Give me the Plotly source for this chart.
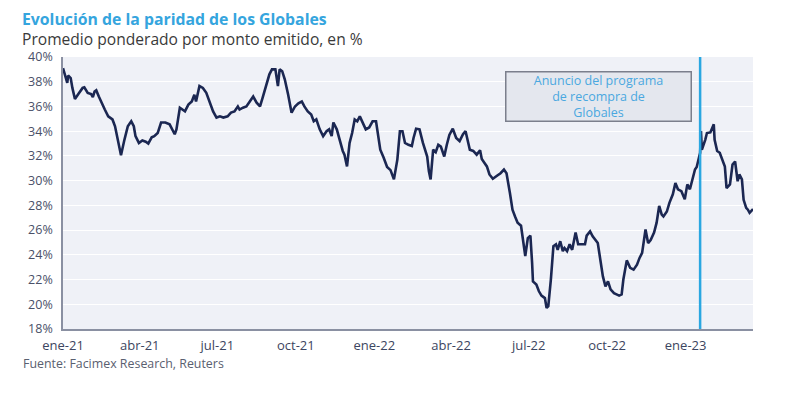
import plotly.graph_objects as go

# ---- data ----
dates = [
    "2021-01-01","2021-01-03","2021-01-06","2021-01-07","2021-01-10","2021-01-12","2021-01-15","2021-01-19","2021-01-24","2021-01-26","2021-01-30",
    "2021-02-03","2021-02-05","2021-02-07","2021-02-09","2021-02-12","2021-02-16","2021-02-19","2021-02-23","2021-02-28",
    "2021-03-03","2021-03-06","2021-03-10","2021-03-14","2021-03-18","2021-03-22","2021-03-25","2021-03-27","2021-03-31",
    "2021-04-04","2021-04-08","2021-04-11","2021-04-15","2021-04-18","2021-04-22","2021-04-26",
    "2021-05-01","2021-05-06","2021-05-12","2021-05-14","2021-05-18","2021-05-21","2021-05-24","2021-05-28",
    "2021-06-01","2021-06-04","2021-06-06","2021-06-10","2021-06-14","2021-06-18","2021-06-22","2021-06-26","2021-06-30",
    "2021-07-04","2021-07-08","2021-07-13","2021-07-17","2021-07-21","2021-07-25","2021-07-27","2021-07-31",
    "2021-08-04","2021-08-08","2021-08-12","2021-08-16","2021-08-20","2021-08-23","2021-08-27","2021-08-31",
    "2021-09-03","2021-09-07","2021-09-10","2021-09-12","2021-09-15","2021-09-18","2021-09-22","2021-09-26","2021-09-30",
    "2021-10-04","2021-10-08","2021-10-11","2021-10-15","2021-10-19","2021-10-22","2021-10-25","2021-10-29",
    "2021-11-02","2021-11-06","2021-11-09","2021-11-12","2021-11-14","2021-11-18","2021-11-21","2021-11-25","2021-11-27","2021-11-30",
    "2021-12-03","2021-12-06","2021-12-09","2021-12-12","2021-12-15","2021-12-18","2021-12-22","2021-12-26","2021-12-30",
    "2022-01-03","2022-01-05","2022-01-08","2022-01-12","2022-01-16","2022-01-20","2022-01-24","2022-01-28","2022-01-31",
    "2022-02-03","2022-02-06","2022-02-10","2022-02-14","2022-02-16","2022-02-19","2022-02-23","2022-02-27",
    "2022-03-04","2022-03-06","2022-03-08","2022-03-11","2022-03-14","2022-03-17","2022-03-20","2022-03-24","2022-03-27","2022-03-30",
    "2022-04-03","2022-04-07","2022-04-11","2022-04-15","2022-04-18","2022-04-20","2022-04-23","2022-04-27",
    "2022-05-01","2022-05-05","2022-05-07","2022-05-10","2022-05-13","2022-05-16","2022-05-20","2022-05-24","2022-05-29",
    "2022-06-02","2022-06-05","2022-06-09","2022-06-12","2022-06-15","2022-06-18","2022-06-22","2022-06-24","2022-06-27","2022-06-30",
    "2022-07-03","2022-07-05","2022-07-06","2022-07-10","2022-07-13","2022-07-16","2022-07-20","2022-07-22","2022-07-24","2022-07-27","2022-07-30",
    "2022-08-02","2022-08-04","2022-08-07","2022-08-10","2022-08-12","2022-08-15","2022-08-18","2022-08-21","2022-08-25","2022-08-28",
    "2022-09-01","2022-09-05","2022-09-07","2022-09-11","2022-09-14","2022-09-18","2022-09-20","2022-09-23","2022-09-26","2022-09-29",
    "2022-10-02","2022-10-05","2022-10-09","2022-10-12","2022-10-15","2022-10-18","2022-10-20","2022-10-24","2022-10-28",
    "2022-11-01","2022-11-05","2022-11-08","2022-11-11","2022-11-15","2022-11-18","2022-11-21","2022-11-25","2022-11-28",
    "2022-12-01","2022-12-04","2022-12-06","2022-12-10","2022-12-13","2022-12-17","2022-12-20","2022-12-23","2022-12-27","2022-12-31",
    "2023-01-03","2023-01-06","2023-01-09","2023-01-12","2023-01-14","2023-01-18","2023-01-19","2023-01-20","2023-01-24","2023-01-26","2023-01-30",
    "2023-02-03","2023-02-04","2023-02-07","2023-02-10","2023-02-13","2023-02-16","2023-02-18","2023-02-22","2023-02-25","2023-02-28",
    "2023-03-03","2023-03-05","2023-03-08","2023-03-10","2023-03-13","2023-03-15","2023-03-17","2023-03-21",
]

paridad = [
    39.1, 38.6, 37.9, 38.5, 38.3, 37.5, 36.6, 37.0, 37.5, 37.55, 37.1,
    37.0, 36.75, 37.2, 37.3, 36.8, 36.15, 35.75, 35.2, 34.95,
    34.4, 33.3, 32.05, 33.3, 34.4, 34.8, 34.4, 33.6, 33.05,
    33.25, 33.15, 33.0, 33.5, 33.6, 33.85, 34.7,
    34.7, 34.55, 33.75, 34.15, 35.9, 35.75, 35.6, 36.15,
    36.4, 36.95, 36.4, 37.65, 37.5, 37.1, 36.4, 35.6, 35.1,
    35.2, 35.1, 35.2, 35.5, 35.6, 36.0, 35.75, 35.9,
    36.0, 36.4, 36.8, 36.3, 36.0, 36.7, 37.65, 38.6,
    39.0, 39.0, 37.65, 39.0, 38.85, 38.2, 36.95, 35.5, 36.0,
    36.25, 36.4, 36.0, 35.6, 35.35, 34.8, 34.95, 34.15,
    33.6, 34.0, 34.15, 33.6, 34.7, 34.15, 33.3, 32.4, 32.1, 31.15,
    33.05, 33.85, 34.95, 34.8, 35.2, 34.7, 34.15, 34.3, 34.8,
    34.8, 33.85, 32.5, 31.85, 31.1, 30.85, 30.1, 31.7, 34.0,
    34.0, 33.05, 32.9, 32.8, 33.45, 34.2, 34.15, 33.05,
    31.95, 30.75, 30.1, 32.5, 32.3, 32.9, 32.75, 31.95, 32.9, 33.7,
    34.2, 33.45, 33.2, 33.75, 34.0, 33.3, 32.5, 32.4,
    32.1, 32.45, 31.75, 31.45, 31.15, 30.5, 30.15, 30.35, 30.6,
    30.9, 30.6, 29.0, 27.65, 27.1, 26.6, 26.35, 25.25, 23.9, 25.35,
    25.55, 23.35, 21.85, 21.6, 21.05, 20.7, 20.5, 19.7, 19.85, 22.0, 24.7,
    24.85, 24.4, 25.1, 24.3, 24.55, 24.3, 24.85, 24.4, 25.8, 24.85,
    24.85, 24.85, 25.55, 25.9, 25.5, 25.1, 24.95, 23.6, 22.25, 21.45,
    21.85, 21.2, 20.9, 20.8, 20.7, 20.8, 22.0, 23.55, 22.95,
    22.8, 23.2, 23.75, 24.15, 26.05, 24.95, 25.2, 25.8, 26.6,
    27.95, 27.25, 27.1, 27.5, 28.2, 28.9, 29.8, 29.3, 29.15, 28.5,
    29.7, 29.3, 30.1, 30.9, 31.1, 32.25, 34.0, 32.5, 33.3, 33.85, 33.9,
    34.55, 33.3, 32.4, 32.25, 31.7, 31.15, 29.4, 29.7, 31.3, 31.55,
    29.95, 30.5, 30.1, 28.45, 27.8, 27.65, 27.4, 27.7,
]

tick_dates = ["2021-01-01", "2021-04-01", "2021-07-01", "2021-10-01", "2022-01-01",
              "2022-04-01", "2022-07-01", "2022-10-01", "2023-01-01"]
tick_labels = ["ene-21", "abr-21", "jul-21", "oct-21", "ene-22",
               "abr-22", "jul-22", "oct-22", "ene-23"]
y_ticks = [18, 20, 22, 24, 26, 28, 30, 32, 34, 36, 38, 40]
y_labels = [f"{v}%" for v in y_ticks]

event_date = "2023-01-18"
event_text = "Anuncio del programa<br>de recompra de<br>Globales"
x_range = ["2021-01-01", "2023-03-21"]

title = "Evolución de la paridad de los Globales"
subtitle = "Promedio ponderado por monto emitido, en %"
source = "Fuente: Facimex Research, Reuters"

FONT = "Open Sans"
OFF = 8  # page body margin
W, H = 800 - OFF, 397 - OFF
ML, MT = 63 - OFF, 57 - OFF
MR, MB = 47, 68
PW, PH = W - ML - MR, H - MT - MB

fig = go.Figure()
fig.add_trace(go.Scatter(
    x=dates, y=paridad, mode="lines",
    line=dict(color="#1b2752", width=2.6),
    hoverinfo="skip", showlegend=False,
))

fig.add_shape(type="line", xref="x", yref="paper",
              x0=event_date, x1=event_date, y0=0, y1=1,
              line=dict(color="#2aa7e1", width=2.5))

def px_x(p):
    return (p - OFF - ML) / PW

def px_y(p):
    return 1 - (p - OFF - MT) / PH

annotations = [
    dict(text=f"<b>{title}</b>", x=px_x(21), y=px_y(19), xref="paper", yref="paper",
         xanchor="left", yanchor="middle", showarrow=False, borderpad=0,
         font=dict(family=FONT, size=15.8, color="#35a5de")),
    dict(text=subtitle, x=px_x(21), y=px_y(39.5), xref="paper", yref="paper",
         xanchor="left", yanchor="middle", showarrow=False, borderpad=0,
         font=dict(family=FONT, size=15.6, color="#3a3a3a")),
    dict(text=source, x=px_x(21), y=px_y(363), xref="paper", yref="paper",
         xanchor="left", yanchor="middle", showarrow=False,
         font=dict(family=FONT, size=12.4, color="#5a6070")),
    dict(text=event_text, x=px_x(598), y=px_y(96.7), xref="paper", yref="paper",
         xanchor="center", yanchor="middle", showarrow=False,
         width=182, height=46, align="center",
         bgcolor="#e4e7ee", bordercolor="#7b7f8c", borderwidth=1.5, borderpad=1,
         font=dict(family=FONT, size=12.5, color="#4aa8e0")),
]

fig.update_layout(
    width=W, height=H,
    margin=dict(l=ML, r=MR, t=MT, b=MB),
    paper_bgcolor="white",
    plot_bgcolor="#eff1f7",
    annotations=annotations,
    font=dict(family=FONT),
    xaxis=dict(
        type="date", range=x_range,
        tickvals=tick_dates, ticktext=tick_labels,
        showgrid=False, zeroline=False,
        showline=True, linecolor="#8a90a2", linewidth=1.5,
        ticks="", ticklabelstandoff=4,
        tickfont=dict(family=FONT, size=13, color="#3c4560"),
    ),
    yaxis=dict(
        range=[18, 40], tickvals=y_ticks, ticktext=y_labels,
        showgrid=True, gridcolor="#ffffff", gridwidth=1,
        zeroline=False,
        showline=True, linecolor="#8a90a2", linewidth=1.5,
        ticks="", ticklabelstandoff=6,
        tickfont=dict(family=FONT, size=12.5, color="#4a5068"),
    ),
)

fig.write_html("out.html")
